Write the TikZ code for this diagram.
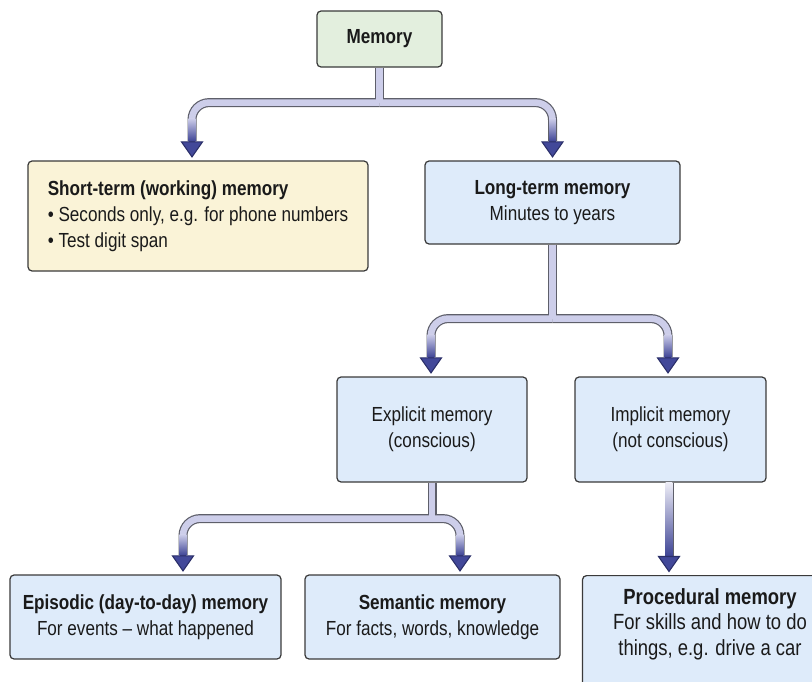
\documentclass[tikz,border=0pt]{standalone}
\usepackage{fontspec}
\setmainfont[FakeStretch=0.84]{Liberation Sans}
\usetikzlibrary{calc}
\definecolor{boxedge}{HTML}{3A3A3A}
\definecolor{textdark}{HTML}{1A1A1A}
\definecolor{memgreen}{HTML}{E3EFDE}
\definecolor{stmcream}{HTML}{FAF3D7}
\definecolor{boxblue}{HTML}{DEEBFA}
\definecolor{pipeedge}{HTML}{5E5F6A}
\definecolor{pipelight}{HTML}{CDCEEA}
\definecolor{pipetop}{HTML}{EEEEF7}
\definecolor{pipedark}{HTML}{3E4495}
\definecolor{headfill}{HTML}{424899}
\definecolor{headedge}{HTML}{2A2E68}

\begin{document}
\begin{tikzpicture}[x=0.02cm, y=0.02cm,
  box/.style={draw=boxedge, line width=0.7pt, rounded corners=0.08cm,
              align=center, text=textdark, inner sep=0pt,
              font=\fontsize{11.6}{14.7}\selectfont},
  pipe/.style={draw=pipeedge, line width=0.18cm, rounded corners=0.34cm},
  pipein/.style={draw=pipelight, line width=0.132cm, rounded corners=0.34cm},
  head/.style={fill=headfill, draw=headedge, line width=0.6pt, line join=miter},
]
\useasboundingbox (0,0) rectangle (812,-681);

% ---- boxes ----
\node[box, fill=memgreen, minimum width=2.5cm, minimum height=1.12cm] (mem)
  at (379.5,-39) {\textbf{Memory}};

\node[box, fill=stmcream, align=left, minimum width=6.8cm,
      minimum height=2.2cm] (stm) at (198,-216)
  {\textbf{Short-term (working) memory}\\• Seconds only, e.g. for phone numbers\\• Test digit span};
\node[box, fill=boxblue, minimum width=5.1cm, minimum height=1.66cm] (ltm)
  at (552.5,-202.5) {\textbf{Long-term memory}\\Minutes to years};

\node[box, fill=boxblue, minimum width=3.8cm, minimum height=2.1cm] (expl)
  at (432,-429.5) {Explicit memory\\(conscious)};
\node[box, fill=boxblue, minimum width=3.82cm, minimum height=2.1cm] (impl)
  at (670.5,-429.5) {Implicit memory\\(not conscious)};

\node[box, fill=boxblue, minimum width=5.42cm, minimum height=1.68cm] (epi)
  at (145.5,-617) {\textbf{Episodic (day-to-day) memory}\\For events – what happened};
\node[box, fill=boxblue, minimum width=5.1cm, minimum height=1.68cm] (sem)
  at (432.5,-617) {\textbf{Semantic memory}\\For facts, words, knowledge};
\node[box, fill=boxblue, minimum width=5.1cm, anchor=north, inner ysep=0.26cm,
      text depth=2.6cm, font=\fontsize{12.5}{14.4}\selectfont] (proc) at (710,-575)
  {\textbf{Procedural memory}\\For skills and how to do\\things, e.g. drive a car};

% ---- junctions and arrow tips ----
\coordinate (j1) at ($(mem.south)+(0,-35)$);
\coordinate (j2) at ($(ltm.south)+(0,-74)$);
\coordinate (j3) at ($(expl.south)+(0,-36)$);
\coordinate (stm-in)  at ($(stm.north)+(-6,3.5)$);
\coordinate (ltm-in)  at ($(ltm.north)+(0,3.5)$);
\coordinate (expl-in) at ($(expl.north)+(-1,3.5)$);
\coordinate (impl-in) at ($(impl.north)+(-2.5,3.5)$);
\coordinate (epi-in)  at ($(epi.north)+(37.5,3.5)$);
\coordinate (sem-in)  at ($(sem.north)+(27.5,3.5)$);
\coordinate (proc-in) at ($(impl.south |- proc.north)+(-1.5,3.5)$);

% ---- pipes: outline first, then the inside ----
\foreach \s in {pipe, pipein} {
  \draw[\s] (mem.south) -- (j1);
  \draw[\s] (j1) -| ($(stm-in)+(0,16)$);
  \draw[\s] (j1) -| ($(ltm-in)+(0,16)$);
  \draw[\s] (ltm.south) -- (j2);
  \draw[\s] (j2) -| ($(expl-in)+(0,16)$);
  \draw[\s] (j2) -| ($(impl-in)+(0,16)$);
  \draw[\s] (expl.south) -- (j3);
  \draw[\s] (j3) -| ($(epi-in)+(0,16)$);
  \draw[\s] (j3) -| ($(sem-in)+(0,16)$);
  \draw[\s] ($(impl.south)+(-1.5,0)$) -- ($(proc-in)+(0,16)$);
}

% ---- shading down to the heads ----
\foreach \p/\h/\c in {stm-in/38.5/pipelight, ltm-in/38.5/pipelight,
    expl-in/38.5/pipelight, impl-in/38.5/pipelight, epi-in/36.5/pipelight,
    sem-in/36.5/pipelight, proc-in/89.5/pipetop} {
  \shade[top color=\c, bottom color=pipedark]
    ($(\p)+(-3.3,\h)$) rectangle ($(\p)+(3.3,15.5)$);
  \filldraw[head] (\p) -- ++(-10.5,15) -- ++(21,0) -- cycle;
}

\end{tikzpicture}
\end{document}
